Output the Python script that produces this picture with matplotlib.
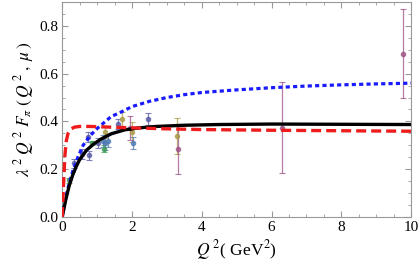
import matplotlib
matplotlib.use("Agg")
import matplotlib.pyplot as plt
from matplotlib.ticker import MultipleLocator, FormatStrFormatter

plt.rcParams["font.family"] = ["Liberation Serif", "DejaVu Serif"]
plt.rcParams["mathtext.fontset"] = "stix"

# curves
black_x = [0, 0.05, 0.1, 0.2, 0.3, 0.4, 0.5, 0.7, 0.9, 1.1, 1.4, 1.8, 2.2, 2.7, 3.5, 4.5, 6, 8, 10]
black_y = [0, 0.035, 0.07, 0.13, 0.175, 0.21, 0.24, 0.28, 0.305, 0.325, 0.348, 0.365, 0.373,
           0.379, 0.384, 0.387, 0.389, 0.388, 0.387]

red_x = [0, 0.02, 0.05, 0.08, 0.12, 0.17, 0.25, 0.35, 0.5, 0.8, 1.2, 2, 3, 4, 6, 8, 10]
red_y = [0, 0.07, 0.17, 0.26, 0.32, 0.35, 0.368, 0.376, 0.379, 0.379, 0.377, 0.373, 0.369,
         0.366, 0.363, 0.361, 0.359]

blue_x = [0, 0.1, 0.2, 0.3, 0.45, 0.6, 0.8, 1.0, 1.2, 1.4, 1.7, 2, 2.5, 3, 3.5, 4, 5, 6, 7, 8, 9, 10]
blue_y = [0, 0.08, 0.14, 0.19, 0.25, 0.3, 0.34, 0.37, 0.395, 0.42, 0.44, 0.462, 0.484, 0.5,
          0.512, 0.521, 0.532, 0.541, 0.548, 0.553, 0.557, 0.56]

# data sets (x, y, error)
slate_x = [0.34, 0.58, 0.75, 0.77, 1.03, 1.61, 2.47]
slate_y = [0.224, 0.263, 0.335, 0.258, 0.31, 0.39, 0.41]
slate_e = [0.02, 0.02, 0.02, 0.02, 0.02, 0.02, 0.025]

steel_x = [1.16, 1.24, 1.3, 2.02]
steel_y = [0.32, 0.31, 0.32, 0.31]
steel_e = [0.025, 0.03, 0.025, 0.025]

green_x = [0.2, 0.86, 1.2]
green_y = [0.154, 0.31, 0.286]
green_e = [0.01, 0.01, 0.015]

olive_x = [1.22, 1.72, 2.0, 3.3]
olive_y = [0.356, 0.41, 0.356, 0.338]
olive_e = [0.025, 0.03, 0.04, 0.075]

magenta_x = [1.94, 3.33, 6.29, 9.76]
magenta_y = [0.373, 0.286, 0.373, 0.684]
magenta_e = [0.05, 0.105, 0.19, 0.186]

fig = plt.figure(figsize=(4.2, 2.73), dpi=100)
ax = fig.add_axes([0.148, 0.205, 0.831, 0.788])

groups = [
    (slate_x, slate_y, slate_e, "#5558a4"),
    (steel_x, steel_y, steel_e, "#4c78b2"),
    (green_x, green_y, green_e, "#3f9a55"),
    (olive_x, olive_y, olive_e, "#a89a45"),
    (magenta_x, magenta_y, magenta_e, "#9c4f85"),
]
for gx, gy, ge, col in groups:
    ax.errorbar(gx, gy, yerr=ge, fmt="o", ms=3, color=col, ecolor=col, elinewidth=0.9,
                capsize=2, capthick=0.8, alpha=0.75, zorder=2)

ax.plot(blue_x, blue_y, color="#1a1aff", lw=2.3, ls=(0, (1.3, 1.0)), zorder=3)
ax.plot(black_x, black_y, color="black", lw=2.4, zorder=4)
ax.plot(red_x, red_y, color="#ee1c1c", lw=2.4, ls=(0, (3, 1.5)), zorder=5)

ax.set_xlim(0, 10)
ax.set_ylim(0, 0.9)
ax.xaxis.set_major_locator(MultipleLocator(2))
ax.xaxis.set_minor_locator(MultipleLocator(0.5))
ax.yaxis.set_major_locator(MultipleLocator(0.2))
ax.yaxis.set_minor_locator(MultipleLocator(0.05))
ax.yaxis.set_major_formatter(FormatStrFormatter("%.1f"))

for sp in ax.spines.values():
    sp.set_color("#999999")
    sp.set_linewidth(0.8)
ax.tick_params(which="both", direction="in", top=True, right=True, color="#999999",
               labelsize=11, pad=3)
ax.tick_params(which="major", length=4)
ax.tick_params(which="minor", length=2)

ax.set_xlabel(r"$Q^{\;2}$( GeV$^2$)", fontsize=12.5, labelpad=3)
ax.set_ylabel(r"$\lambda^{\;2}\;Q^{\;2}\;F_{\pi}\;(\,Q^{\;2}\;,\;\mu\,)$", fontsize=12.5,
              labelpad=2)

fig.savefig("out.png", dpi=100)
